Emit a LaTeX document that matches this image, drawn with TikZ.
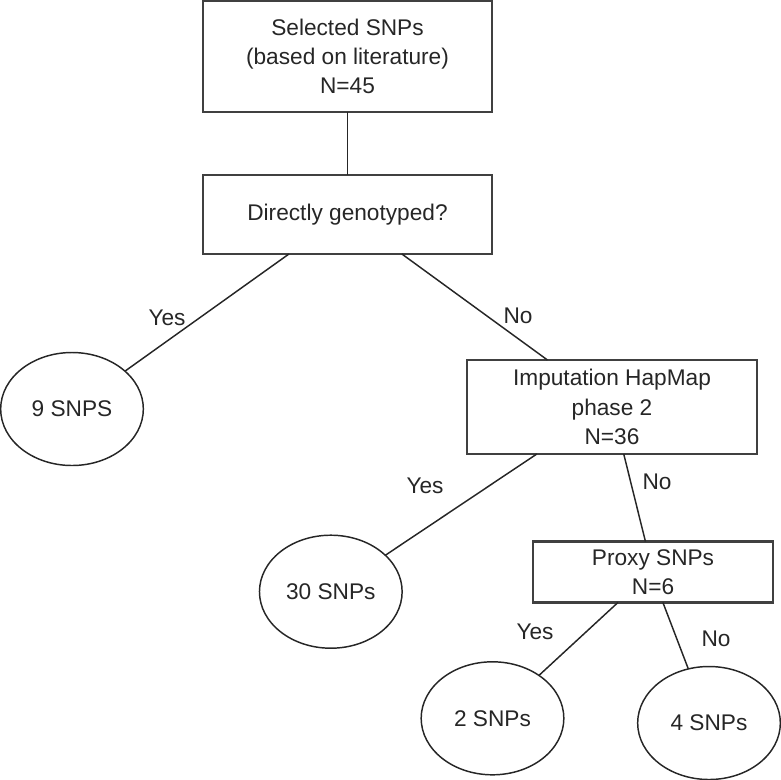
\documentclass[tikz,border=0pt]{standalone}
\usepackage{fontspec}
\setmainfont{Liberation Sans}
\usetikzlibrary{shapes.geometric}
\tikzset{%
    question/.style={
      rectangle,
      draw=black!75,
      line width=1.6pt,
      align=center,
      outer sep=0pt
    },
    result/.style={
      ellipse,
      draw,
      outer sep=0pt,
      minimum width=107pt,
      minimum height=84.75pt
    },
    answer/.style={
      inner sep=1pt
    }
  }

\begin{document}
\begin{tikzpicture}[x=0.75pt, y=-0.75pt, line width=1.1pt, draw=black!85, text=black!85,
    every node/.append style={font=\fontsize{17}{22}\selectfont}]
      \useasboundingbox (0,0) rectangle (781,779);

      \node [question, minimum width=216.75pt, minimum height=83.25pt] (sel) at (347.5,56.5) {Selected SNPs\\(based on literature)\\N=45};
      \node [question, minimum width=216.75pt, minimum height=59.25pt] (dir) at (347.5,214.5) {Directly genotyped?};
      \node [question, minimum width=217.5pt, minimum height=70.5pt] (imp) at (612,407) {Imputation HapMap\\phase 2\\N=36};
      \node [question, minimum width=180pt, minimum height=45.75pt] (proxy) at (653,572) {Proxy SNPs\\N=6};

      \node [result] (nine) at (72,409) {9 SNPS};
      \node [result] (thirty) at (330.8,591.7) {30 SNPs};
      \node [result] (two) at (492.5,718.3) {2 SNPs};
      \node [result] (four) at (709,723) {4 SNPs};

      \node [answer] (yes1) at (167,318) {Yes};
      \node [answer] (no1) at (518,316) {No};
      \node [answer] (yes2) at (425,486) {Yes};
      \node [answer] (no2) at (657,482) {No};
      \node [answer] (yes3) at (535,632) {Yes};
      \node [answer] (no3) at (716,639) {No};

      \draw (sel) -- (dir);

      \draw (dir.214.5) -- (nine);
      \draw (dir.324.6) -- (imp);

      \draw (imp.212.8) -- (thirty);
      \draw (imp.284.3) -- (proxy);

      \draw (proxy.221.5) -- (two);
      \draw (proxy.288) -- (four);
    \end{tikzpicture}
\end{document}
